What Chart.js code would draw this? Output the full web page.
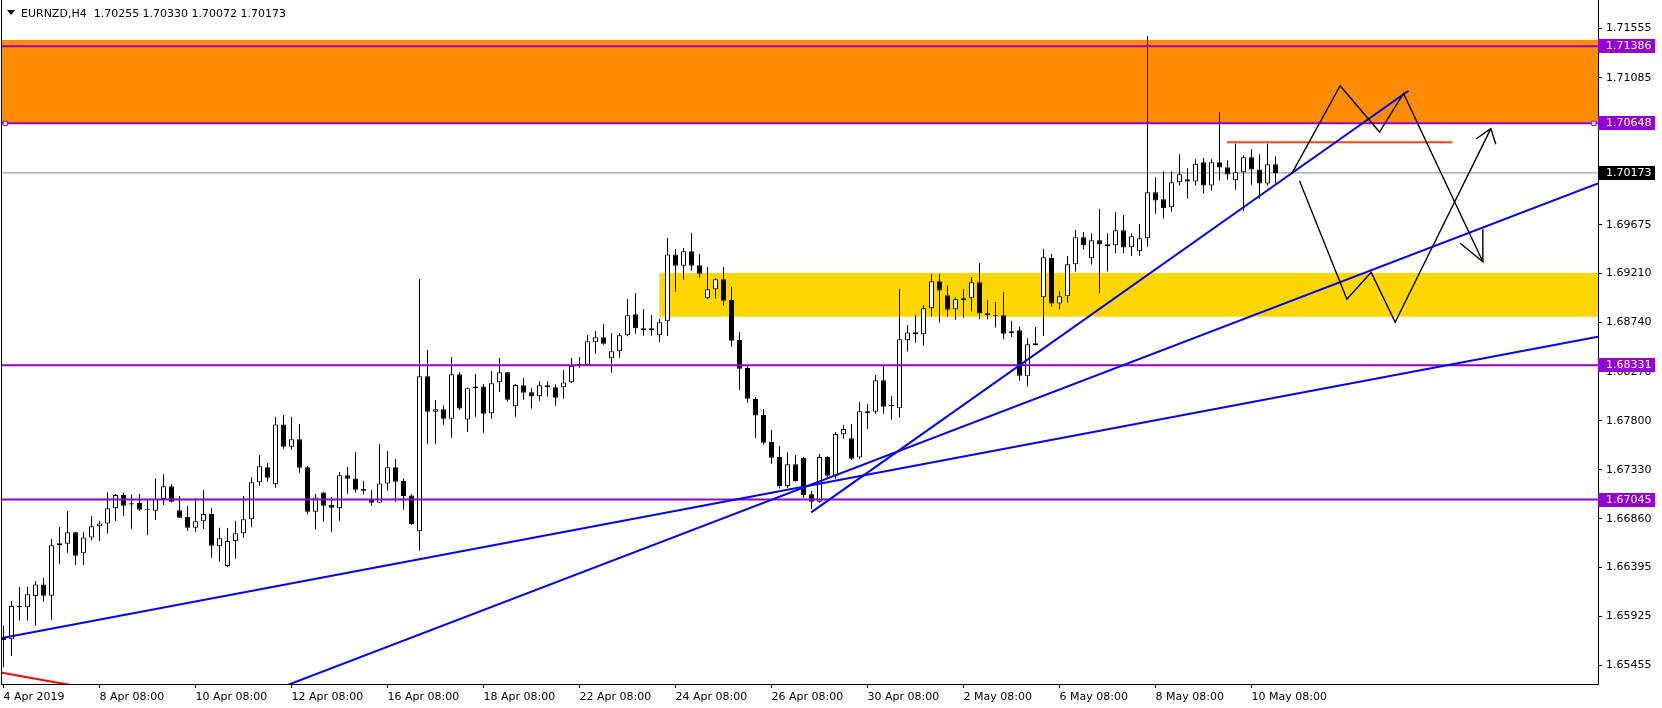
<!DOCTYPE html>
<html><head><meta charset="utf-8">
<script src="https://cdn.jsdelivr.net/npm/chart.js@4/dist/chart.umd.min.js"></script>
<style>html,body{margin:0;padding:0;background:#fff;overflow:hidden}canvas{display:block}</style>
</head><body>
<canvas id="c" width="1662" height="708"></canvas>
<script>
const symbol = 'EURNZD,H4';

const opens = [1.65732,1.65707,1.66026,1.66013,1.66122,1.66233,1.66125,1.66607,1.66623,1.66731,
1.66530,1.66683,1.66789,1.66817,1.66961,1.67089,1.67009,1.67012,1.66952,1.66939,
1.67050,1.67172,1.66942,1.66878,1.66776,1.66837,1.66907,1.66597,1.66409,1.66648,
1.66722,1.66856,1.67210,1.67354,1.67191,1.67765,1.67552,1.67622,1.67354,1.66929,
1.67114,1.66993,1.66961,1.67277,1.67248,1.67146,1.67044,1.67015,1.67200,1.67354,
1.67223,1.67085,1.66741,1.68225,1.67887,1.67909,1.67820,1.68244,1.67813,1.68110,
1.68129,1.67871,1.68168,1.68264,1.67938,1.68139,1.68072,1.68034,1.68139,1.68120,
1.68120,1.68168,1.68331,1.68337,1.68551,1.68599,1.68398,1.68465,1.68618,1.68819,
1.68685,1.68666,1.68618,1.68752,1.69393,1.69285,1.69422,1.69288,1.68972,1.69058,
1.69154,1.68956,1.68573,1.68305,1.68008,1.67855,1.67596,1.67453,1.67175,1.67383,
1.67443,1.67095,1.67025,1.67453,1.67274,1.67670,1.67632,1.67447,1.67891,1.67887,
1.68187,1.67951,1.67919,1.68570,1.68647,1.68628,1.68877,1.69135,1.69001,1.68867,
1.68954,1.68973,1.69126,1.68829,1.68810,1.68810,1.68638,1.68666,1.68226,1.68542,
1.68982,1.69359,1.68922,1.68992,1.69298,1.69557,1.69356,1.69528,1.69490,1.69480,
1.69624,1.69461,1.69423,1.69547,1.69988,1.69921,1.69844,1.70084,1.70112,1.70090,
1.70275,1.70052,1.70275,1.70227,1.70103,1.70179,1.70323,1.70205,1.70071,1.70255];

const highs = [1.65838,1.66074,1.66208,1.66211,1.66265,1.66297,1.66668,1.66782,1.66936,1.66738,
1.66731,1.66888,1.66843,1.67114,1.67098,1.67114,1.67092,1.67098,1.67050,1.67248,
1.67287,1.67191,1.67079,1.66983,1.67057,1.67137,1.66967,1.66776,1.66770,1.66840,
1.67079,1.67258,1.67472,1.67395,1.67836,1.67855,1.67836,1.67769,1.67366,1.67098,
1.67121,1.67070,1.67309,1.67357,1.67500,1.67223,1.67137,1.67577,1.67510,1.67433,
1.67248,1.67095,1.69157,1.68477,1.67998,1.67947,1.68410,1.68264,1.68120,1.68248,
1.68152,1.68276,1.68401,1.68267,1.68152,1.68209,1.68110,1.68177,1.68177,1.68149,
1.68286,1.68401,1.68410,1.68621,1.68659,1.68726,1.68640,1.68640,1.68966,1.69023,
1.68870,1.68812,1.68774,1.69550,1.69444,1.69454,1.69598,1.69397,1.69272,1.69164,
1.69272,1.69081,1.68650,1.68324,1.68027,1.67912,1.67711,1.67558,1.67497,1.67472,
1.67453,1.67127,1.67481,1.67459,1.67692,1.67756,1.67769,1.67980,1.67961,1.68239,
1.68328,1.68037,1.69062,1.68717,1.68813,1.68909,1.69206,1.69206,1.69100,1.68982,
1.69062,1.69177,1.69311,1.68957,1.68938,1.69033,1.68756,1.68701,1.68590,1.68698,
1.69445,1.69397,1.69043,1.69375,1.69627,1.69608,1.69595,1.69828,1.69595,1.69799,
1.69771,1.69595,1.69685,1.71485,1.70131,1.70189,1.70189,1.70352,1.70218,1.70304,
1.70317,1.70304,1.70754,1.70294,1.70454,1.70342,1.70400,1.70352,1.70454,1.70330];

const lows = [1.65439,1.65547,1.65886,1.65886,1.65838,1.66067,1.65892,1.66431,1.66537,1.66419,
1.66419,1.66655,1.66648,1.66719,1.66840,1.66888,1.66766,1.66936,1.66706,1.66849,
1.66993,1.67020,1.66868,1.66744,1.66735,1.66763,1.66489,1.66450,1.66396,1.66479,
1.66680,1.66779,1.67178,1.67216,1.67159,1.67532,1.67523,1.67302,1.66904,1.66760,
1.66833,1.66738,1.66843,1.67101,1.67114,1.67095,1.66987,1.67009,1.67130,1.67025,
1.66948,1.66801,1.66556,1.67580,1.67580,1.67762,1.67638,1.67903,1.67695,1.67839,
1.67686,1.67820,1.68078,1.67983,1.67839,1.68002,1.67916,1.67992,1.68031,1.67944,
1.68011,1.68158,1.68308,1.68331,1.68442,1.68528,1.68260,1.68404,1.68608,1.68634,
1.68615,1.68615,1.68551,1.68615,1.69036,1.69151,1.69237,1.69170,1.68963,1.68969,
1.68902,1.68509,1.68094,1.67973,1.67635,1.67571,1.67389,1.67150,1.67156,1.67216,
1.67063,1.66952,1.67015,1.67245,1.67239,1.67628,1.67425,1.67437,1.67721,1.67868,
1.67868,1.67811,1.67830,1.68462,1.68548,1.68519,1.68797,1.68740,1.68797,1.68768,
1.68787,1.68845,1.68772,1.68772,1.68692,1.68580,1.68602,1.68184,1.68130,1.68523,
1.68612,1.68893,1.68867,1.68931,1.69228,1.69439,1.69295,1.69021,1.69228,1.69404,
1.69404,1.69381,1.69381,1.69467,1.69783,1.69736,1.69803,1.70052,1.69927,1.70052,
1.69975,1.70004,1.70100,1.70109,1.70013,1.69809,1.70061,1.69927,1.70052,1.70072];

const closes = [1.65700,1.66026,1.66013,1.66138,1.66233,1.66125,1.66607,1.66626,1.66731,1.66508,
1.66683,1.66789,1.66817,1.66961,1.67089,1.66987,1.66999,1.66948,1.66942,1.67050,
1.67172,1.67025,1.66872,1.66776,1.66837,1.66907,1.66604,1.66674,1.66648,1.66722,
1.66856,1.67210,1.67363,1.67255,1.67765,1.67552,1.67622,1.67350,1.66929,1.67066,
1.66987,1.66967,1.67277,1.67245,1.67140,1.67130,1.67015,1.67200,1.67354,1.67216,
1.67079,1.66811,1.68225,1.67887,1.67909,1.67820,1.68244,1.67916,1.68110,1.68129,
1.67868,1.68158,1.68264,1.68002,1.68142,1.68069,1.68034,1.68139,1.68120,1.68021,
1.68165,1.68327,1.68343,1.68560,1.68599,1.68538,1.68465,1.68618,1.68809,1.68685,
1.68666,1.68685,1.68742,1.69393,1.69285,1.69422,1.69285,1.69208,1.69058,1.69154,
1.68950,1.68567,1.68299,1.68011,1.67849,1.67590,1.67446,1.67175,1.67383,1.67222,
1.67089,1.67025,1.67453,1.67274,1.67673,1.67721,1.67437,1.67891,1.67871,1.68187,
1.67935,1.67938,1.68580,1.68644,1.68628,1.68877,1.69135,1.69046,1.68864,1.68963,
1.68973,1.69126,1.68826,1.68810,1.68800,1.68634,1.68657,1.68232,1.68532,1.68526,
1.69365,1.68922,1.68992,1.69298,1.69557,1.69480,1.69528,1.69490,1.69471,1.69624,
1.69458,1.69566,1.69547,1.69988,1.69908,1.69835,1.70084,1.70160,1.70090,1.70262,
1.70052,1.70275,1.70224,1.70157,1.70179,1.70323,1.70205,1.70071,1.70256,1.70173];

const xTickIndex = [0,12,24,36,48,60,72,84,96,108,120,132,144,156];
const xTickLabels = ['4 Apr 2019','8 Apr 08:00','10 Apr 08:00','12 Apr 08:00','16 Apr 08:00','18 Apr 08:00','22 Apr 08:00','24 Apr 08:00','26 Apr 08:00','30 Apr 08:00','2 May 08:00','6 May 08:00','8 May 08:00','10 May 08:00'];
const yTicks = [1.71555,1.71085,1.70615,1.70145,1.69675,1.69210,1.68740,1.68270,1.67800,1.67330,1.66860,1.66395,1.65925,1.65455];

const levelLines = [1.71386, 1.70648, 1.68331, 1.67045];
const bidPrice = 1.70173;
const orangeZone = [1.70648, 1.71446];
const yellowZone = [1.68796, 1.69215];
const yellowZoneStart = 81.96;
const resistanceLine = [[152.92, 1.70466], [181.12, 1.70466]];
const trendA = [[-0.1875, 1.65720], [199.3125, 1.68604]];
const trendB = [[30, 1.65108], [199.3125, 1.70072]];
const trendC = [[100.96, 1.66923], [175.63, 1.70960]];
const redLine = [[-0.1875, 1.65386], [11.83, 1.65222]];
const zigzagUp = [[161.05, 1.70169], [167.08, 1.71008], [172.0, 1.70565], [175.0, 1.70935], [184.92, 1.69323]];
const zigzagUpHead = [[184.92, 1.69633], [184.92, 1.69323], [182.08, 1.69499]];
const zigzagDown = [[162.0, 1.70099], [167.92, 1.68963], [170.96, 1.69221], [173.96, 1.68743], [185.92, 1.70597]];
const zigzagDownHead = [[184.05, 1.70498], [185.92, 1.70597], [186.54, 1.70447]];

const N = opens.length;
const X_MIN = -0.1875, X_MAX = 199.3125;
const Y_MIN = 1.65279, Y_MAX = 1.71829;
const FONT = 'DejaVu Sans';
const PURPLE = '#9400D3';

function pts(arr) { return arr.map(p => ({x: p[0], y: p[1]})); }
function lineDs(arr, color, width, order, extra) {
  return Object.assign({type: 'line', data: pts(arr), borderColor: color, borderWidth: width,
    pointRadius: 0, pointHitRadius: 0, fill: false, tension: 0, order: order}, extra || {});
}

const datasets = [];
datasets.push(lineDs([[X_MIN, orangeZone[1]], [X_MAX, orangeZone[1]]], 'rgba(0,0,0,0)', 0, 30,
  {fill: {value: orangeZone[0]}, backgroundColor: '#FF8C00'}));
datasets.push(lineDs([[yellowZoneStart, yellowZone[1]], [X_MAX, yellowZone[1]]], 'rgba(0,0,0,0)', 0, 29,
  {fill: {value: yellowZone[0]}, backgroundColor: '#FFD700'}));
datasets.push(lineDs([[X_MIN, bidPrice], [X_MAX, bidPrice]], '#778899', 1, 28));
datasets.push({type: 'bar', data: lows.map((l, i) => ({x: i, y: [l, highs[i]]})),
  barThickness: 1, backgroundColor: '#000', borderWidth: 0, grouped: false, inflateAmount: 0, order: 21});
datasets.push({type: 'bar', data: opens.map((o, i) => ({x: i, y: [o, closes[i]]})),
  barThickness: 5, backgroundColor: opens.map((o, i) => closes[i] >= o ? '#fff' : '#000'),
  borderColor: '#000', borderWidth: 1, borderSkipped: false, grouped: false, inflateAmount: 0,
  minBarLength: 1, order: 20});
levelLines.forEach(v => {
  if (v === 1.70648) {
    datasets.push(lineDs([[X_MIN, v], [0.22, v], [198.8, v], [X_MAX, v]], PURPLE, 2, 5,
      {pointRadius: [0, 3, 3, 0], pointStyle: 'rect', pointBackgroundColor: '#fff', pointBorderColor: PURPLE, pointBorderWidth: 1}));
  } else {
    datasets.push(lineDs([[X_MIN, v], [X_MAX, v]], PURPLE, 2, 5));
  }
});
datasets.push(lineDs(resistanceLine, '#FF4500', 2, 4));
datasets.push(lineDs(trendA, '#0000FF', 2, 3));
datasets.push(lineDs(trendB, '#0000FF', 2, 3));
datasets.push(lineDs(trendC, '#0000FF', 2, 3));
datasets.push(lineDs(redLine, '#FF0000', 2, 3));
datasets.push(lineDs(zigzagUp, '#000', 1.4, 2));
datasets.push(lineDs(zigzagUpHead, '#000', 1.4, 2));
datasets.push(lineDs(zigzagDown, '#000', 1.4, 2));
datasets.push(lineDs(zigzagDownHead, '#000', 1.4, 2));

const overlay = {
  id: 'overlay',
  afterDraw(chart) {
    const ctx = chart.ctx, ca = chart.chartArea, y = chart.scales.y;
    ctx.save();
    ctx.fillStyle = '#000';
    ctx.fillRect(ca.left - 1, 0, 1, ca.bottom + 1);
    ctx.beginPath(); ctx.moveTo(7, 10); ctx.lineTo(15, 10); ctx.lineTo(11, 15); ctx.closePath(); ctx.fill();
    ctx.font = '11px "' + FONT + '"';
    ctx.textAlign = 'left';
    ctx.textBaseline = 'alphabetic';
    const k = N - 1;
    ctx.fillText(symbol + '  ' + [opens[k], highs[k], lows[k], closes[k]].map(v => v.toFixed(5)).join(' '), 21, 17);
    const tags = levelLines.map(v => ({v: v, c: PURPLE})).concat([{v: bidPrice, c: '#000'}]);
    ctx.textBaseline = 'middle';
    tags.forEach(t => {
      const py = Math.round(y.getPixelForValue(t.v));
      ctx.fillStyle = t.c;
      ctx.fillRect(ca.right, py - 7, 57, 14);
      ctx.fillStyle = '#fff';
      ctx.fillText(t.v.toFixed(5), ca.right + 8, py + 0.5);
    });
    ctx.restore();
  }
};

new Chart(document.getElementById('c'), {
  type: 'bar',
  data: {datasets: datasets},
  plugins: [overlay],
  options: {
    responsive: false,
    devicePixelRatio: 1,
    animation: false,
    events: [],
    layout: {padding: {left: 2, right: 0, top: 0, bottom: 0}},
    plugins: {legend: {display: false}, tooltip: {enabled: false}},
    scales: {
      x: {
        type: 'linear', min: X_MIN, max: X_MAX, offset: false, position: 'bottom',
        afterBuildTicks: s => { s.ticks = xTickIndex.map(v => ({value: v})); },
        afterFit: s => { s.height = 24; s.paddingLeft = 0; s.paddingRight = 0; },
        ticks: {autoSkip: false, maxRotation: 0, minRotation: 0, align: 'start', padding: 3, color: '#000',
          font: {family: FONT, size: 11},
          callback: v => { const i = xTickIndex.indexOf(v); return i >= 0 ? xTickLabels[i] : ''; }},
        grid: {drawOnChartArea: false, drawTicks: true, tickLength: 4, color: '#000', offset: false},
        border: {display: true, color: '#000', width: 1}
      },
      y: {
        type: 'linear', position: 'right', min: Y_MIN, max: Y_MAX,
        afterBuildTicks: s => { s.ticks = yTicks.map(v => ({value: v})); },
        afterFit: s => { s.width = 64; s.paddingTop = 0; s.paddingBottom = 0; },
        ticks: {autoSkip: false, padding: 4, color: '#000', font: {family: FONT, size: 11},
          callback: v => Number(v).toFixed(5)},
        grid: {drawOnChartArea: false, drawTicks: true, tickLength: 4, color: '#000'},
        border: {display: true, color: '#000', width: 1}
      }
    }
  }
});
</script>
</body></html>
